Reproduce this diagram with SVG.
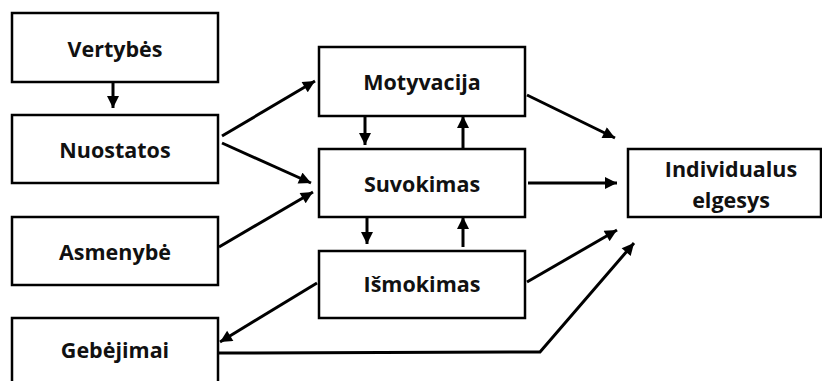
<svg xmlns="http://www.w3.org/2000/svg" width="822" height="381" viewBox="0 0 822 381">
  <style>
    .box { fill: #ffffff; stroke: #000000; stroke-width: 2.5; }
    .lbl { font-family: "Open Sans", "Noto Sans", "Liberation Sans", sans-serif; font-weight: bold; font-size: 21.5px; fill: #111111; text-anchor: middle; }
    .edge { fill: none; stroke: #000000; stroke-width: 3; marker-end: url(#head); }
  </style>
  <defs>
    <marker id="head" viewBox="0 0 10 10" refX="10" refY="5" markerWidth="4.5" markerHeight="4" markerUnits="strokeWidth" orient="auto">
      <path d="M0,0 L10,5 L0,10 Z" fill="#000000"/>
    </marker>
  </defs>
  <rect x="0" y="0" width="822" height="381" fill="#ffffff"/>

  <g id="vertybes">
    <rect class="box" x="12" y="13" width="206" height="69"/>
    <text class="lbl" x="115" y="57">Vertybės</text>
  </g>
  <g id="nuostatos">
    <rect class="box" x="12" y="115" width="206" height="68"/>
    <text class="lbl" x="115" y="158">Nuostatos</text>
  </g>
  <g id="asmenybe">
    <rect class="box" x="12" y="217" width="206" height="68"/>
    <text class="lbl" x="115" y="260">Asmenybė</text>
  </g>
  <g id="gebejimai">
    <rect class="box" x="12" y="318" width="206" height="80"/>
    <text class="lbl" x="115" y="358">Gebėjimai</text>
  </g>
  <g id="motyvacija">
    <rect class="box" x="319" y="47" width="206" height="69"/>
    <text class="lbl" x="422" y="90">Motyvacija</text>
  </g>
  <g id="suvokimas">
    <rect class="box" x="319" y="149" width="206" height="68"/>
    <text class="lbl" x="422" y="192">Suvokimas</text>
  </g>
  <g id="ismokimas">
    <rect class="box" x="319" y="251" width="206" height="67"/>
    <text class="lbl" x="422" y="292">Išmokimas</text>
  </g>
  <g id="elgesys">
    <rect class="box" x="628" y="149" width="193" height="68"/>
    <text class="lbl" x="731" y="177">Individualus</text>
    <text class="lbl" x="731" y="208">elgesys</text>
  </g>

  <g id="connectors">
    <line class="edge" x1="113" y1="82" x2="113" y2="108"/>
    <line class="edge" x1="222" y1="136" x2="315" y2="81"/>
    <line class="edge" x1="222" y1="143" x2="311" y2="183"/>
    <line class="edge" x1="219" y1="247" x2="313" y2="192"/>
    <line class="edge" x1="365" y1="116" x2="365" y2="145"/>
    <line class="edge" x1="463" y1="149" x2="463" y2="116"/>
    <line class="edge" x1="367" y1="217" x2="367" y2="244"/>
    <line class="edge" x1="463" y1="247" x2="463" y2="217"/>
    <line class="edge" x1="317" y1="283" x2="220" y2="342"/>
    <line class="edge" x1="527" y1="95" x2="615" y2="138"/>
    <line class="edge" x1="528" y1="183" x2="617" y2="183"/>
    <line class="edge" x1="527" y1="282" x2="617" y2="230"/>
    <polyline class="edge" points="218,353 540,352 634,243"/>
  </g>
</svg>
